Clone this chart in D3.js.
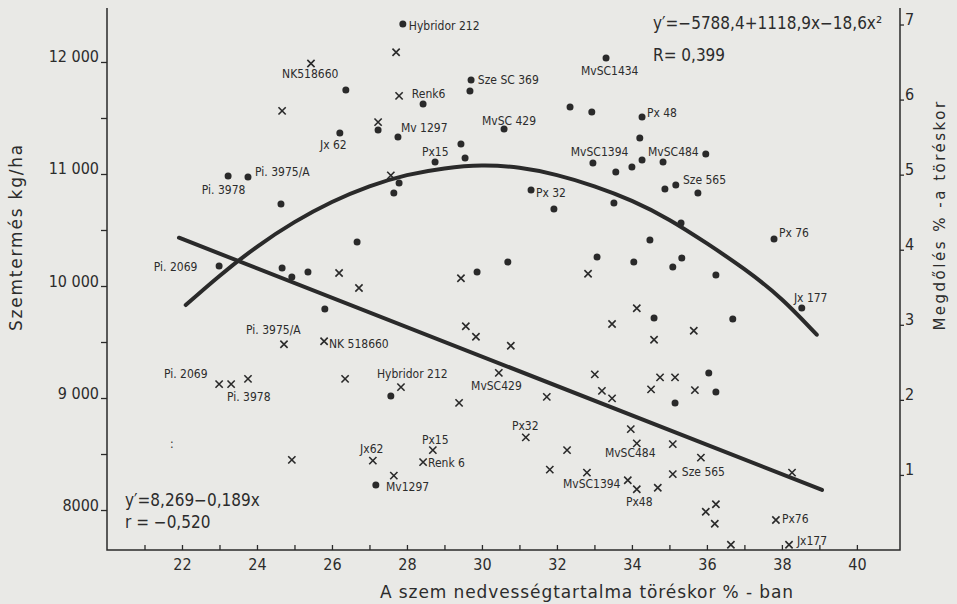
<!DOCTYPE html>
<html>
<head>
<meta charset="utf-8">
<script src="https://cdn.jsdelivr.net/npm/d3@7"></script>
<style>
  body { margin: 0; background: #e9e9e6; }
  text { font-family: "DejaVu Sans Condensed", "DejaVu Sans", sans-serif; fill: #2c2c2c; }
</style>
</head>
<body>
<div id="chart"></div>
<script>
// yield points (moisture %, kg/ha) - dots, left axis
var yieldPoints = [
  [27.89, 12339], [26.37, 11750], [29.71, 11839], [29.68, 11741], [28.43, 11625],
  [26.21, 11366], [27.23, 11393], [27.76, 11330], [28.75, 11107], [29.44, 11268],
  [29.55, 11143], [23.76, 10973], [23.23, 10982], [27.79, 10920], [27.65, 10830],
  [24.64, 10732], [26.67, 10393], [22.99, 10179], [24.67, 10161], [24.93, 10080],
  [25.36, 10125], [25.81, 9795], [29.87, 10125], [30.69, 10214], [31.31, 10857],
  [27.57, 9018], [27.17, 8223], [33.31, 12036], [32.35, 11598], [32.93, 11554],
  [34.27, 11509], [34.21, 11321], [30.59, 11402], [32.96, 11098], [33.57, 11018],
  [34.0, 11063], [34.27, 11125], [34.83, 11107], [35.97, 11179], [34.88, 10866],
  [35.17, 10902], [35.76, 10830], [31.92, 10688], [33.52, 10741], [35.31, 10563],
  [34.48, 10411], [37.79, 10420], [33.07, 10259], [34.05, 10214], [35.33, 10250],
  [35.09, 10170], [36.24, 10098], [38.53, 9804], [34.59, 9714], [36.69, 9705],
  [36.05, 9223], [36.24, 9054], [35.15, 8955]
];

// lodging points (moisture %, lodging %) - crosses, right axis
var lodgingPoints = [
  [25.44, 6.48], [27.71, 6.63], [27.79, 6.05], [24.67, 5.85], [27.23, 5.70],
  [27.57, 4.99], [26.19, 3.69], [26.72, 3.49], [29.44, 3.62], [29.57, 2.98],
  [29.84, 2.84], [30.77, 2.72], [24.72, 2.74], [25.79, 2.78], [22.99, 2.21],
  [23.31, 2.21], [23.76, 2.28], [26.35, 2.28], [27.84, 2.17], [30.45, 2.36],
  [31.73, 2.04], [29.39, 1.96], [24.93, 1.20], [27.09, 1.19], [28.69, 1.33],
  [28.43, 1.17], [27.65, 0.99], [31.17, 1.50], [32.83, 3.68], [34.13, 3.22],
  [33.47, 3.01], [35.65, 2.92], [34.59, 2.80], [33.01, 2.34], [33.20, 2.12],
  [33.47, 2.02], [34.75, 2.30], [35.15, 2.30], [34.51, 2.14], [35.68, 2.13],
  [32.27, 1.33], [31.81, 1.07], [32.80, 1.03], [33.97, 1.61], [34.13, 1.42],
  [35.09, 1.41], [35.84, 1.23], [35.09, 1.01], [33.89, 0.93], [34.13, 0.81],
  [34.69, 0.83], [35.97, 0.51], [36.24, 0.61], [36.21, 0.35], [37.84, 0.40],
  [38.27, 1.03], [36.64, 0.07], [38.19, 0.07]
];

// fitted curves
var yieldCurve = [
  [22.1, 9830], [23, 10090], [24, 10350], [25, 10570], [26, 10750], [27, 10890],
  [28, 10990], [29, 11050], [30, 11075], [31, 11055], [32, 10990], [33, 10890],
  [34, 10760], [35, 10590], [36, 10380], [37, 10150], [38, 9880], [38.93, 9565]
];
var lodgingLine = [[21.92, 4.16], [39.07, 0.80]];

// variety labels [text, moisture, value] (text left edge, middle)
var yieldLabels = [
  ["Hybridor 212", 28.05, 12321], ["NK518660", 24.67, 11893], ["Sze SC 369", 29.89, 11839],
  ["Renk6", 28.13, 11714], ["Mv 1297", 27.84, 11411], ["Jx 62", 25.68, 11259],
  ["Px15", 28.40, 11196], ["Pi. 3975/A", 23.95, 11018], ["Pi. 3978", 22.53, 10857],
  ["MvSC 429", 30.0, 11473], ["MvSC1434", 32.64, 11920], ["Px 48", 34.40, 11545],
  ["MvSC1394", 32.37, 11196], ["MvSC484", 34.43, 11196], ["Sze 565", 35.36, 10946],
  ["Px 32", 31.44, 10830], ["Px 76", 37.92, 10473], ["Jx 177", 38.32, 9893],
  ["Pi. 2069", 21.25, 10170]
];
var lodgingLabels = [
  ["Pi. 3975/A", 23.71, 2.93], ["NK 518660", 25.92, 2.75], ["Pi. 2069", 21.52, 2.35],
  ["Pi. 3978", 23.20, 2.04], ["Hybridor 212", 27.20, 2.35], ["MvSC429", 29.71, 2.19],
  ["Px32", 30.80, 1.66], ["Px15", 28.40, 1.47], ["Jx62", 26.75, 1.35],
  ["Renk 6", 28.56, 1.16], ["Mv1297", 27.44, 0.84], ["MvSC484", 33.28, 1.29],
  ["MvSC1394", 32.16, 0.88], ["Sze 565", 35.33, 1.04], ["Px48", 33.84, 0.64],
  ["Px76", 38.0, 0.42], ["Jx177", 38.40, 0.12], [":", 21.68, 1.42]
];

var xTicks = [22, 24, 26, 28, 30, 32, 34, 36, 38, 40];
var xMinor = [21, 23, 25, 27, 29, 31, 33, 35, 37, 39];
var yTicks = [8000, 9000, 10000, 11000, 12000];
var yTickLabels = ["8000", "9 000", "10 000", "11 000", "12 000"];
var yMinor = [8500, 9500, 10500, 11500];
var rTicks = [1, 2, 3, 4, 5, 6, 7];

var W = 957, H = 604;
var plotL = 107, plotR = 900, plotT = 8, plotB = 550;

var svg = d3.select("#chart").append("svg")
  .attr("width", W).attr("height", H)
  .style("background", "#e9e9e6");

var x = d3.scaleLinear().domain([20, 41.15]).range([plotL, plotR]);
var y = d3.scaleLinear().domain([7643, 12482]).range([plotB, plotT]);
var yR = d3.scaleLinear().domain([0, 7.22]).range([plotB, plotT]);

var ink = "#2a2a2a";

// axes
svg.append("g")
  .attr("transform", "translate(0," + plotB + ")")
  .call(d3.axisBottom(x).tickValues(xTicks).tickSize(-5).tickPadding(9).tickFormat(d3.format("d")));
svg.append("g")
  .attr("transform", "translate(0," + plotB + ")")
  .call(d3.axisBottom(x).tickValues(xMinor).tickSize(-5).tickFormat(""));

var yAxis = svg.append("g")
  .attr("transform", "translate(" + plotL + ",0)")
  .call(d3.axisLeft(y).tickValues(yTicks).tickSize(6).tickPadding(2)
    .tickFormat(function (d, i) { return yTickLabels[i]; }));
svg.append("g")
  .attr("transform", "translate(" + plotL + ",0)")
  .call(d3.axisLeft(y).tickValues(yMinor).tickSize(6).tickFormat(""));

var rAxis = svg.append("g")
  .attr("transform", "translate(" + plotR + ",0)")
  .call(d3.axisRight(yR).tickValues(rTicks).tickSize(4).tickPadding(1).tickFormat(d3.format("d")));

svg.selectAll(".domain").remove();
svg.selectAll(".tick line").attr("stroke", ink).attr("stroke-width", 1.3);
svg.selectAll(".tick text").style("font-size", "16px").attr("fill", "#333");
yAxis.selectAll(".tick text").attr("dy", "0");
rAxis.selectAll(".tick text").attr("dy", "0");

// axis lines (left, bottom, right)
svg.append("path")
  .attr("d", "M" + plotL + "," + plotT + "V" + plotB + "H" + plotR + "V" + plotT)
  .attr("fill", "none").attr("stroke", ink).attr("stroke-width", 1.5);

// regression curves
svg.append("path")
  .datum(yieldCurve)
  .attr("fill", "none").attr("stroke", ink).attr("stroke-width", 4)
  .attr("stroke-linecap", "round")
  .attr("d", d3.line().x(function (d) { return x(d[0]); }).y(function (d) { return y(d[1]); })
    .curve(d3.curveNatural));

svg.append("path")
  .datum(lodgingLine)
  .attr("fill", "none").attr("stroke", ink).attr("stroke-width", 4)
  .attr("stroke-linecap", "round")
  .attr("d", d3.line().x(function (d) { return x(d[0]); }).y(function (d) { return yR(d[1]); }));

// dots
svg.append("g").selectAll("circle")
  .data(yieldPoints)
  .enter().append("circle")
  .attr("cx", function (d) { return x(d[0]); })
  .attr("cy", function (d) { return y(d[1]); })
  .attr("r", 3.5)
  .attr("fill", ink);

// crosses
svg.append("g").selectAll("path")
  .data(lodgingPoints)
  .enter().append("path")
  .attr("transform", function (d) { return "translate(" + x(d[0]) + "," + yR(d[1]) + ")"; })
  .attr("d", d3.symbol(d3.symbolX).size(36))
  .attr("fill", "none").attr("stroke", ink).attr("stroke-width", 1.6);

// labels
svg.append("g").selectAll("text")
  .data(yieldLabels)
  .enter().append("text")
  .attr("x", function (d) { return x(d[1]); })
  .attr("y", function (d) { return y(d[2]); })
  .attr("dy", "0.35em")
  .style("font-size", "12px")
  .text(function (d) { return d[0]; });

svg.append("g").selectAll("text")
  .data(lodgingLabels)
  .enter().append("text")
  .attr("x", function (d) { return x(d[1]); })
  .attr("y", function (d) { return yR(d[2]); })
  .attr("dy", "0.35em")
  .style("font-size", "12px")
  .text(function (d) { return d[0]; });

// equations
svg.append("text").attr("x", 653).attr("y", 29).style("font-size", "17px")
  .text("y\u2032=\u22125788,4+1118,9x\u221218,6x\u00b2");
svg.append("text").attr("x", 653).attr("y", 61).style("font-size", "17px")
  .text("R= 0,399");
svg.append("text").attr("x", 125).attr("y", 506).style("font-size", "17px")
  .text("y\u2032=8,269\u22120,189x");
svg.append("text").attr("x", 125).attr("y", 528).style("font-size", "17px")
  .text("r = \u22120,520");

// axis titles
svg.append("text")
  .attr("transform", "translate(22,237) rotate(-90)")
  .attr("text-anchor", "middle")
  .style("font-family", "'DejaVu Sans', sans-serif")
  .style("font-size", "17px").style("letter-spacing", "1.8px").attr("fill", "#3a3a3a")
  .text("Szemtermés  kg/ha");

svg.append("text")
  .attr("transform", "translate(945,215) rotate(-90)")
  .attr("text-anchor", "middle")
  .style("font-family", "'DejaVu Sans', sans-serif")
  .style("font-size", "15px").style("letter-spacing", "2.5px").attr("fill", "#666")
  .text("Megdőlés  % -a  töréskor");

svg.append("text")
  .attr("x", 587).attr("y", 598)
  .attr("text-anchor", "middle")
  .style("font-family", "'DejaVu Sans', sans-serif")
  .style("font-size", "17px").style("letter-spacing", "0.9px").attr("fill", "#3a3a3a")
  .text("A szem  nedvességtartalma  töréskor  % - ban");
</script>
</body>
</html>
